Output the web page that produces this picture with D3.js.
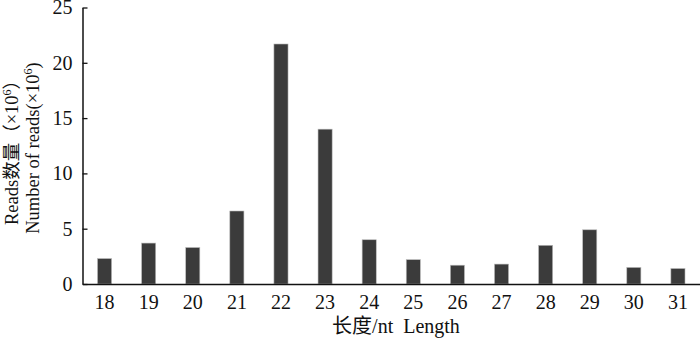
<!DOCTYPE html>
<html><head><meta charset="utf-8">
<script src="https://cdn.jsdelivr.net/npm/d3@7/dist/d3.min.js"></script>
<style>
body{margin:0;background:#fff;}
text{font-family:"Liberation Serif","Times New Roman","Noto Sans CJK SC",serif;fill:#111;}
</style></head>
<body><svg id="c" width="700" height="340"></svg>
<script>
const categories = ["18","19","20","21","22","23","24","25","26","27","28","29","30","31"];
const values = [2.3,3.7,3.3,6.6,21.7,14.0,4.0,2.2,1.7,1.8,3.5,4.9,1.5,1.4];
const yTicks = [0,5,10,15,20,25];
const xTitle = "长度/nt\u00a0\u00a0Length";
const yTitle1 = "Reads数量（×10";
const yTitle1End = "）";
const yTitle2 = "Number of reads(×10";
const yTitle2End = ")";

const svg = d3.select("#c");
const x = d3.scaleBand().domain(categories).range([82.5, 700]).paddingInner(0.68).paddingOuter(0.34);
const y = d3.scaleLinear().domain([0,25]).range([284, 7.5]);

svg.selectAll("rect.bar").data(values).enter().append("rect")
  .attr("class","bar")
  .attr("x",(d,i)=>x(categories[i]))
  .attr("width",x.bandwidth())
  .attr("y",d=>y(d))
  .attr("height",d=>y(0)-y(d))
  .attr("fill","#3b3b3b")
  .attr("stroke","#bbb").attr("stroke-width",0.6);

const yAxis = svg.append("g").attr("transform","translate(82.5,0)")
  .call(d3.axisLeft(y).tickValues(yTicks).tickSizeInner(-5).tickSizeOuter(0).tickPadding(10));
yAxis.select(".domain").attr("stroke","#111").attr("stroke-width",1.5);
yAxis.selectAll(".tick line").attr("stroke","#111").attr("stroke-width",1.3);
yAxis.selectAll("text").attr("font-size",20).attr("fill","#111");

const xAxis = svg.append("g").attr("transform","translate(0,284)")
  .call(d3.axisBottom(x).tickSize(0).tickPadding(11));
xAxis.select(".domain").attr("stroke","#111").attr("stroke-width",1.5);
xAxis.selectAll("text").attr("font-size",20).attr("fill","#111");

svg.append("text").attr("x",396).attr("y",333).attr("text-anchor","middle")
  .attr("font-size",20).text(xTitle);

function yLabel(xpos, txt, end){
  const t = svg.append("text").attr("transform",`translate(${xpos},148) rotate(-90)`)
    .attr("text-anchor","middle").attr("font-size",18.5);
  t.append("tspan").text(txt);
  t.append("tspan").attr("font-size",12).attr("dy",-7).text("6");
  t.append("tspan").attr("dy",7).text(end);
}
yLabel(18, yTitle1, yTitle1End);
yLabel(39, yTitle2, yTitle2End);
</script></body></html>
